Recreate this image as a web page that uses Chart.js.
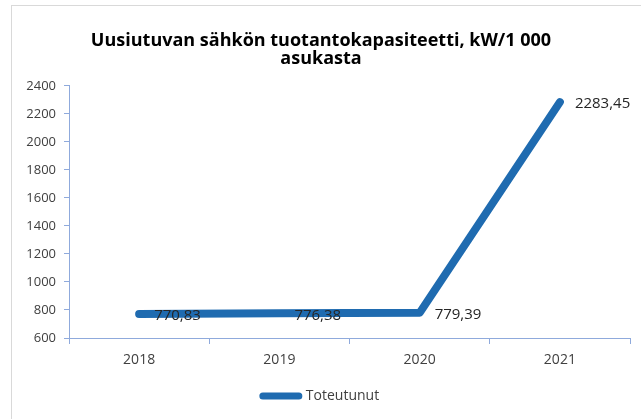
<!DOCTYPE html>
<html>
<head>
<meta charset="utf-8">
<script src="https://cdn.jsdelivr.net/npm/chart.js@4"></script>
<style>
  html, body { margin: 0; padding: 0; background: #fff; }
  #wrap { width: 641px; height: 419px; }
</style>
</head>
<body>
<div id="wrap"><canvas id="chart" width="641" height="419"></canvas></div>
<script>
const years = ['2018', '2019', '2020', '2021'];
const toteutunut = [770.83, 776.38, 779.39, 2283.45];
const titleLines = ['Uusiutuvan sähkön tuotantokapasiteetti, kW/1 000', 'asukasta'];
const seriesName = 'Toteutunut';

const lineColor = '#1f6bb0';
const axisColor = '#8faadc';
const font = '"Open Sans", "Noto Sans", sans-serif';

// reunaviiva koko kuvan ympäri
const frame = {
    id: 'frame',
    beforeDraw(chart) {
        const c = chart.ctx;
        c.save();
        c.strokeStyle = '#d9d9d9';
        c.lineWidth = 1;
        c.strokeRect(11.5, 5.5, 700, 500);
        c.restore();
    }
};

// arvot pisteiden oikealle puolelle
const valueLabels = {
    id: 'valueLabels',
    afterDatasetsDraw(chart) {
        const c = chart.ctx;
        const meta = chart.getDatasetMeta(0);
        c.save();
        c.font = '15px ' + font;
        c.fillStyle = '#262626';
        c.textAlign = 'left';
        c.textBaseline = 'middle';
        meta.data.forEach((pt, i) => {
            const txt = toteutunut[i].toFixed(2).replace('.', ',');
            c.fillText(txt, pt.x + 15, pt.y + 2);
        });
        c.restore();
    }
};

new Chart(document.getElementById('chart'), {
    type: 'line',
    data: {
        labels: years,
        datasets: [{
            label: seriesName,
            data: toteutunut,
            borderColor: lineColor,
            backgroundColor: lineColor,
            borderWidth: 8,
            borderCapStyle: 'round',
            borderJoinStyle: 'round',
            pointRadius: 0,
            tension: 0
        }]
    },
    options: {
        responsive: false,
        animation: false,
        layout: { padding: { left: 12, right: 11, top: 6, bottom: 6 } },
        plugins: {
            title: {
                display: true,
                text: titleLines,
                color: '#000',
                font: { family: font, size: 18, weight: 'bold', lineHeight: 1.05 },
                padding: { top: 25, bottom: 17 }
            },
            legend: {
                position: 'bottom',
                labels: {
                    color: '#404040',
                    font: { family: font, size: 14 },
                    usePointStyle: true,
                    pointStyle: 'line',
                    pointStyleWidth: 36,
                    boxHeight: 10,
                    padding: 6,
                    generateLabels(chart) {
                        const items = Chart.defaults.plugins.legend.labels.generateLabels(chart);
                        items.forEach(it => { it.lineWidth = 7; it.lineCap = 'round'; });
                        return items;
                    }
                }
            },
            tooltip: { enabled: false }
        },
        scales: {
            x: {
                offset: true,
                grid: { offset: true, drawOnChartArea: false, color: axisColor, tickLength: 6 },
                border: { color: axisColor, width: 1 },
                ticks: { color: '#404040', font: { family: font, size: 14 }, padding: 8 },
                afterFit(scale) { scale.height = 45; }
            },
            y: {
                min: 600,
                max: 2400,
                ticks: {
                    stepSize: 200,
                    color: '#404040',
                    font: { family: font, size: 13 },
                    padding: 8,
                    callback: v => String(v)
                },
                grid: { drawOnChartArea: false, color: axisColor, tickLength: 5 },
                border: { color: axisColor, width: 1 },
                afterFit(scale) { scale.width = 57; }
            }
        }
    },
    plugins: [frame, valueLabels]
});
</script>
</body>
</html>
